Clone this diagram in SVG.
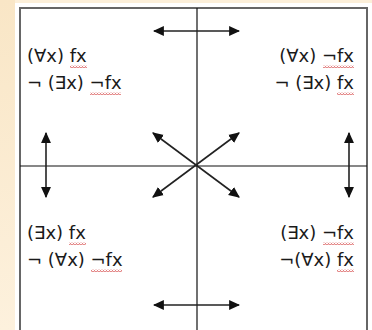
<svg xmlns="http://www.w3.org/2000/svg" width="372" height="330" viewBox="0 0 372 330">
<defs>
<linearGradient id="bg" x1="0" y1="0" x2="0" y2="1">
<stop offset="0" stop-color="#f9e6c6"/>
<stop offset="1" stop-color="#fdf1dd"/>
</linearGradient>
<pattern id="sq" x="0" y="0" width="3" height="3" patternUnits="userSpaceOnUse">
<path d="M0,2.5 L1.5,0.5 L3,2.5" fill="none" stroke="#d23c3c" stroke-width="0.8"/>
</pattern>
<marker id="ah" viewBox="0 0 10 10" refX="9" refY="5" markerWidth="11" markerHeight="11" markerUnits="userSpaceOnUse" orient="auto-start-reverse">
<path d="M0,0.5 L10,5 L0,9.5 Z" fill="#111"/>
</marker>
<style>
.t{font-family:"DejaVu Sans","Liberation Sans",sans-serif;font-size:18px;fill:#1a1a1a}
.e{text-anchor:end}
.a{stroke:#222;stroke-width:1.6;fill:none;marker-start:url(#ah);marker-end:url(#ah)}
.d{stroke:#111;stroke-width:1.2}
.w{fill:url(#sq)}
</style>
</defs>
<rect width="372" height="330" fill="#ffffff"/>
<rect x="0" y="0" width="15" height="330" fill="url(#bg)"/>
<rect x="15" y="0" width="357" height="3" fill="#fcefd9"/>
<g id="frame">
<rect x="20" y="8" width="347" height="330" fill="#ffffff" stroke="#666" stroke-width="2"/>
<line class="d" x1="197" y1="8" x2="197" y2="330"/>
<line class="d" x1="20" y1="166" x2="367" y2="166"/>
</g>
<g id="connectors">
<line class="a" x1="154" y1="31" x2="239" y2="31"/>
<line class="a" x1="154" y1="305" x2="239" y2="305"/>
<line class="a" x1="46" y1="133" x2="46" y2="197"/>
<line class="a" x1="349" y1="133" x2="349" y2="197"/>
<line class="a" x1="153" y1="133" x2="239" y2="197"/>
<line class="a" x1="239" y1="133" x2="153" y2="197"/>
</g>
<g id="node-tl">
<text class="t" x="27" y="62">(∀x) fx</text>
<rect class="w" x="70" y="65" width="17" height="3"/>
<text class="t" x="27" y="89">¬ (∃x) ¬fx</text>
<rect class="w" x="90" y="92" width="31" height="3"/>
</g>
<g id="node-tr">
<text class="t e" x="354" y="62">(∀x) ¬fx</text>
<rect class="w" x="323" y="65" width="31" height="3"/>
<text class="t e" x="354" y="89">¬ (∃x) fx</text>
<rect class="w" x="337" y="92" width="17" height="3"/>
</g>
<g id="node-bl">
<text class="t" x="27" y="239">(∃x) fx</text>
<rect class="w" x="69" y="242" width="17" height="3"/>
<text class="t" x="27" y="266">¬ (∀x) ¬fx</text>
<rect class="w" x="91" y="269" width="31" height="3"/>
</g>
<g id="node-br">
<text class="t e" x="354" y="239">(∃x) ¬fx</text>
<rect class="w" x="323" y="242" width="31" height="3"/>
<text class="t e" x="354" y="266">¬(∀x) fx</text>
<rect class="w" x="337" y="269" width="17" height="3"/>
</g>
</svg>
